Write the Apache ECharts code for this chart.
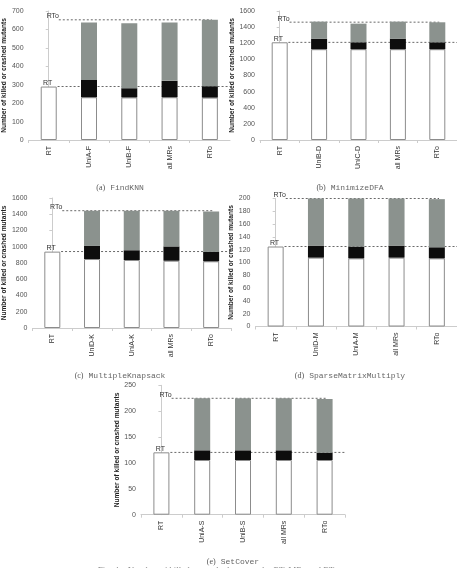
<!DOCTYPE html>
<html><head><meta charset="utf-8">
<script src="https://cdn.jsdelivr.net/npm/echarts@6/dist/echarts.min.js"></script>
<style>html,body{margin:0;padding:0;background:#fff}#c{width:457px;height:568px}</style>
</head><body><div id="c"></div>
<script>
// ---- data ----
const catsA = ['RT','UniA-F','UniB-F','all MRs','RTo'];
const baseA = [290, 232, 231, 232, 230];
const blackTopA = [null, 326, 281, 321, 292];
const grayTopA = [null, 638, 633, 638, 652];
const rtA = 290, rtoA = 652;

const catsB = ['RT','UniB-D','UniC-D','all MRs','RTo'];
const baseB = [1212, 1126, 1126, 1126, 1126];
const blackTopB = [null, 1257, 1212, 1257, 1212];
const grayTopB = [null, 1468, 1443, 1468, 1460];
const rtB = 1212, rtoB = 1462;

const catsC = ['RT','UniD-K','UniA-K','all MRs','RTo'];
const baseC = [940, 849, 837, 828, 821];
const blackTopC = [null, 1010, 957, 1004, 936];
const grayTopC = [null, 1443, 1443, 1443, 1434];
const rtC = 940, rtoC = 1443;

const catsD = ['RT','UniD-M','UniA-M','all MRs','RTo'];
const baseD = [125, 107.6, 106.5, 107.6, 106.5];
const blackTopD = [null, 126.4, 124.8, 126.4, 123.8];
const grayTopD = [null, 200, 200, 200, 199];
const rtD = 125, rtoD = 200;

const catsE = ['RT','UniA-S','UniB-S','all MRs','RTo'];
const baseE = [120.5, 105.7, 105.7, 105.7, 105.7];
const blackTopE = [null, 124.4, 124.4, 124.4, 119.8];
const grayTopE = [null, 224.9, 224.9, 224.9, 223.5];
const rtE = 120.5, rtoE = 225;

const yMax = [700, 1600, 1600, 200, 250];
const yStep = [100, 200, 200, 20, 50];
const captionTag = ['(a)', '(b)', '(c)', '(d)', '(e)'];
const captionName = ['FindKNN', 'MinimizeDFA', 'MultipleKnapsack', 'SparseMatrixMultiply', 'SetCover'];
const yName = 'Number of killed or crashed mutants';

// ---- layout ----
const grids = [
  {left: 26, top: 11, width: 204, height: 129},
  {left: 260, top: 11, width: 200, height: 129},
  {left: 29, top: 198, width: 202, height: 130},
  {left: 255.5, top: 198.5, width: 205, height: 128},
  {left: 141, top: 385.3, width: 204, height: 129.4}
];
const captions = [[115, 174], [345, 174], [115, 362], [345, 362], [228, 548]];

const panels = [
  [catsA, baseA, blackTopA, grayTopA, rtA, rtoA],
  [catsB, baseB, blackTopB, grayTopB, rtB, rtoB],
  [catsC, baseC, blackTopC, grayTopC, rtC, rtoC],
  [catsD, baseD, blackTopD, grayTopD, rtD, rtoD],
  [catsE, baseE, blackTopE, grayTopE, rtE, rtoE]
];

const xAxis = [], yAxis = [], series = [], title = [];
const axisCol = '#cccccc';
panels.forEach((p, i) => {
  const [cats, base, btop, gtop, rt, rto] = p;
  xAxis.push({
    type: 'category', gridIndex: i, data: cats,
    axisLine: {lineStyle: {color: axisCol}},
    axisTick: {show: true, length: 3, lineStyle: {color: axisCol}},
    axisLabel: {rotate: 90, fontSize: 7, color: '#333', fontFamily: 'Liberation Sans', margin: 6}
  });
  xAxis.push({type: 'value', gridIndex: i, min: -0.5, max: 4.5, show: false});
  yAxis.push({
    type: 'value', gridIndex: i, min: 0, max: yMax[i], interval: yStep[i],
    splitLine: {show: false},
    axisLine: {show: true, lineStyle: {color: axisCol}},
    axisTick: {show: true, length: 3, lineStyle: {color: axisCol}},
    axisLabel: {fontSize: 7, color: '#555', fontFamily: 'Liberation Sans', margin: 5, formatter: v => String(v)},
    name: yName, nameLocation: 'middle', nameGap: i === 2 || i === 4 ? 17 : 18,
    nameTextStyle: {fontSize: 6.6, fontWeight: 'bold', color: '#222', fontFamily: 'Liberation Sans'}
  });
  const white = base.slice();
  const black = base.map((b, k) => btop[k] == null ? null : btop[k] - b);
  const gray = base.map((b, k) => gtop[k] == null ? null : gtop[k] - btop[k]);
  const xi = i * 2;
  const lbl = (t, off) => ({show: true, formatter: t, position: 'top', offset: off, fontSize: 7, color: '#333', fontFamily: 'Liberation Sans'});
  series.push({type: 'line', xAxisIndex: xi + 1, yAxisIndex: i, z: 1, symbol: 'circle', symbolSize: 0, showSymbol: true, silent: true,
    lineStyle: {color: '#444', width: 0.8, type: [2, 2]},
    data: [{value: [0.22, rt], label: lbl('RT', [-10, 5])}, {value: [4.5, rt]}]});
  series.push({type: 'line', xAxisIndex: xi + 1, yAxisIndex: i, z: 1, symbol: 'circle', symbolSize: 0, showSymbol: true, silent: true,
    lineStyle: {color: '#444', width: 0.8, type: [2, 2]},
    data: [{value: [0.25, rto], label: lbl('RTo', [-6, 5])}, {value: [4.05, rto]}]});
  series.push({type: 'bar', xAxisIndex: xi, yAxisIndex: i, stack: 's' + i, barWidth: 16, z: 3,
    itemStyle: {color: '#ffffff', borderColor: '#8c8c8c', borderWidth: 1}, data: white});
  series.push({type: 'bar', xAxisIndex: xi, yAxisIndex: i, stack: 's' + i, barWidth: 16, z: 3,
    itemStyle: {color: '#0d0d0d', borderWidth: 0}, data: black});
  series.push({type: 'bar', xAxisIndex: xi, yAxisIndex: i, stack: 's' + i, barWidth: 16, z: 3,
    itemStyle: {color: '#8b928e', borderWidth: 0}, data: gray});
  title.push({
    text: '{t|' + captionTag[i] + '} {n|' + captionName[i] + '}',
    left: captions[i][0], top: captions[i][1], textAlign: 'center',
    textStyle: {fontWeight: 'normal', rich: {
      t: {fontSize: 8, fontFamily: 'Liberation Serif', color: '#555', fontWeight: 'normal'},
      n: {fontSize: 8, fontFamily: 'Liberation Mono', color: '#666', fontWeight: 'normal'}
    }}
  });
});
title.push({text: 'Fig. 4.   Number of killed or crashed mutants by RT, MRs and RTo', left: 213, top: 561, textAlign: 'center',
  textStyle: {fontSize: 9, fontWeight: 'normal', color: '#888', fontFamily: 'Liberation Serif'}});

const chart = echarts.init(document.getElementById('c'), null, {renderer: 'canvas'});
chart.setOption({
  animation: false,
  backgroundColor: '#fff',
  title: title,
  grid: grids.map(g => Object.assign({containLabel: false}, g)),
  xAxis: xAxis, yAxis: yAxis, series: series
});
</script></body></html>
